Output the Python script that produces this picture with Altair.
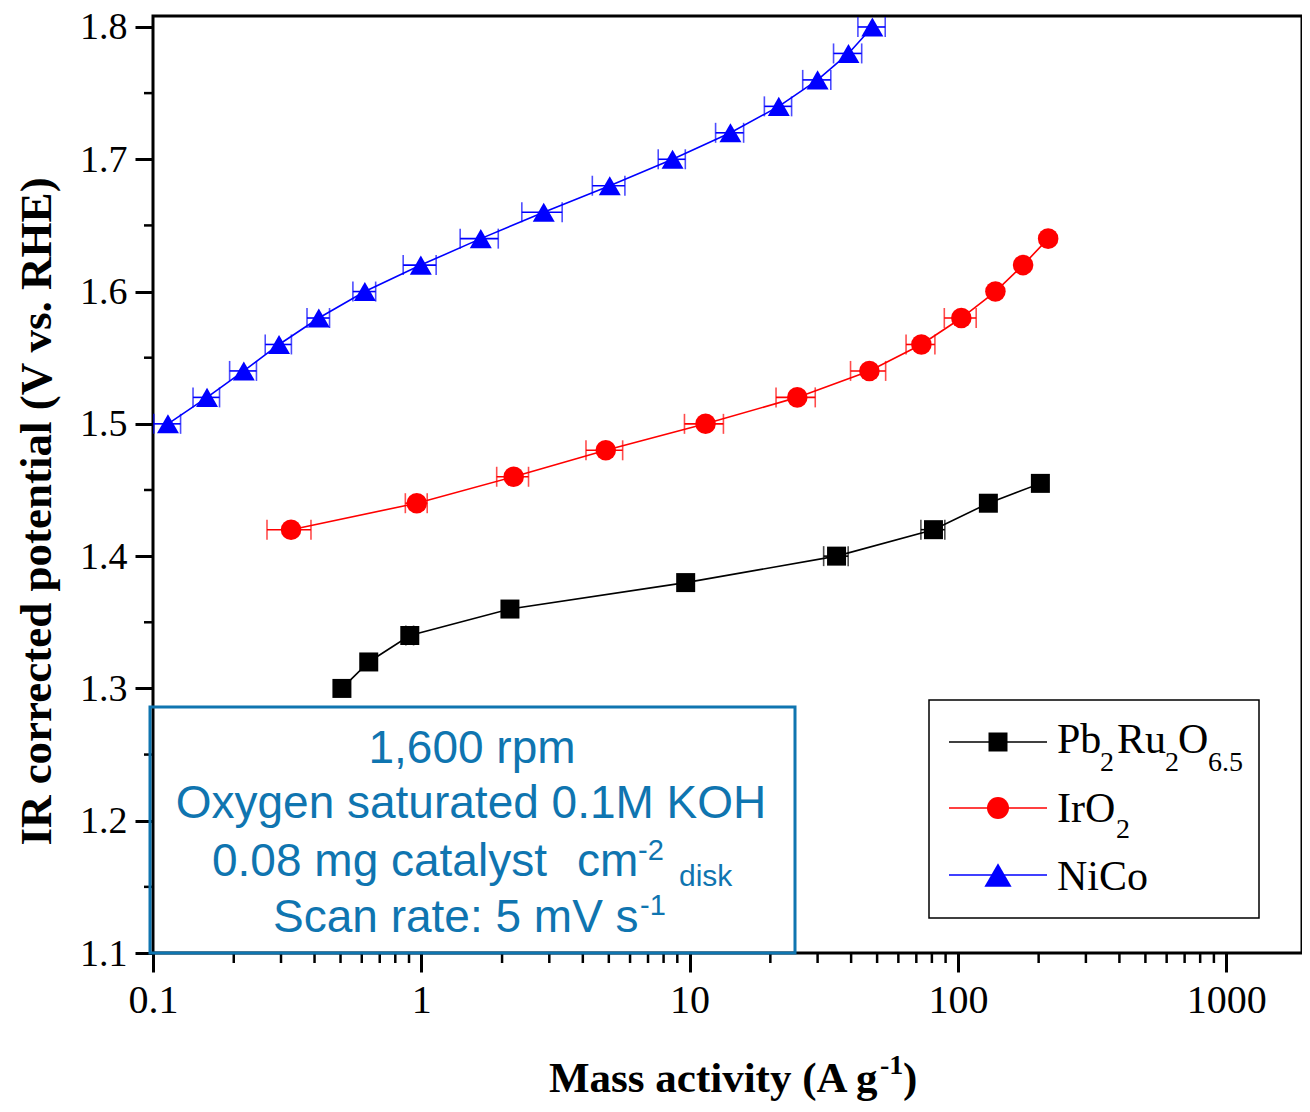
import altair as alt
import pandas as pd

# ---------------- data ----------------
series_names = ["Pb2Ru2O6.5", "IrO2", "NiCo"]
series_colors = ["#000000", "#FF0000", "#0000FF"]
series_shapes = ["square", "circle", "triangle-up"]
series_sizes = [361, 484, 740]

pb_x = [0.506, 0.637, 0.906, 2.14, 9.67, 35.3, 81.1, 129.9, 203]
pb_y = [1.30, 1.32, 1.34, 1.36, 1.38, 1.40, 1.42, 1.44, 1.455]
pb_err = [0, 0, 0.03, 0, 0, 3.7, 8.3, 0, 0]

ir_x = [0.327, 0.962, 2.21, 4.87, 11.47, 25.2, 46.8, 73.1, 103, 138, 175, 217]
ir_y = [1.42, 1.44, 1.46, 1.48, 1.50, 1.52, 1.54, 1.56, 1.58, 1.60, 1.62, 1.64]
ir_err = [0.061, 0.09, 0.3, 0.76, 1.9, 4.2, 7.0, 9.0, 14.0, 0, 0, 0]

nico_x = [0.1137, 0.159, 0.218, 0.295, 0.415, 0.616, 0.996, 1.666, 2.86, 5.04,
          8.64, 14.2, 21.5, 30.0, 39.1, 48.0]
nico_y = [1.50, 1.52, 1.54, 1.56, 1.58, 1.60, 1.62, 1.64, 1.66, 1.68,
          1.70, 1.72, 1.74, 1.76, 1.78, 1.80]
nico_err = [0.013, 0.018, 0.025, 0.033, 0.04, 0.06, 0.14, 0.27, 0.49, 0.7,
            1.0, 1.7, 2.5, 3.6, 4.7, 5.6]

x_major = [0.1, 1, 10, 100, 1000]
y_major = [1.1, 1.2, 1.3, 1.4, 1.5, 1.6, 1.7, 1.8]
y_minor = [1.15, 1.25, 1.35, 1.45, 1.55, 1.65, 1.75]
x_minor = [m * d for d in [0.1, 1, 10, 100, 1000] for m in range(2, 10) if m * d < 1900]

info_color = "#0F75B0"
SERIF = "Liberation Serif"
SANS = "Liberation Sans"

rows = []
for name, xs, ys, es in [(series_names[0], pb_x, pb_y, pb_err),
                         (series_names[1], ir_x, ir_y, ir_err),
                         (series_names[2], nico_x, nico_y, nico_err)]:
    for i, (x, y, e) in enumerate(zip(xs, ys, es)):
        rows.append(dict(series=name, idx=i, x=x, y=y, err=e, xlo=x - e, xhi=x + e))
df = pd.DataFrame(rows)
df_err = df[df["err"] > 0]

# ---------------- scales / axes ----------------
xscale = alt.Scale(type="log", domain=[0.1, 1917], nice=False)
yscale = alt.Scale(domain=[1.1, 1.8083], nice=False, zero=False)

xaxis = alt.Axis(values=x_major, format="~g", title=None, grid=False, domain=False,
                 tickSize=19, tickWidth=3, tickColor="black",
                 labelFont=SERIF, labelFontSize=40, labelColor="black", labelPadding=8,
                 labelFlush=False, labelOverlap=False)
yaxis = alt.Axis(values=y_major, format=".1f", grid=False, domain=False,
                 tickSize=18, tickWidth=3, tickColor="black",
                 labelFont=SERIF, labelFontSize=38, labelColor="black", labelPadding=8,
                 labelOffset=1, labelFlush=False, labelOverlap=False,
                 title="IR corrected potential (V vs. RHE)", titleFont=SERIF,
                 titleFontSize=45, titleFontWeight="bold", titleColor="black",
                 titleAngle=270, titleX=-103, titleY=495, titleAlign="center",
                 titleBaseline="alphabetic")


def X(field):
    return alt.X(field, type="quantitative", scale=xscale, axis=xaxis)


def Y(field):
    return alt.Y(field, type="quantitative", scale=yscale, axis=yaxis)


color = alt.Color("series:N", scale=alt.Scale(domain=series_names, range=series_colors), legend=None)
shape = alt.Shape("series:N", scale=alt.Scale(domain=series_names, range=series_shapes), legend=None)
size = alt.Size("series:N", scale=alt.Scale(domain=series_names, range=series_sizes), legend=None)

base = alt.Chart(df)
lines = base.mark_line(strokeWidth=1.6).encode(x=X("x"), y=Y("y"), color=color, detail="series:N",
                                                order="idx:Q")
err_rules = alt.Chart(df_err).mark_rule(strokeWidth=1.6).encode(x=X("xlo"), x2="xhi", y=Y("y"), color=color)
cap_lo = alt.Chart(df_err).mark_tick(orient="vertical", size=20, thickness=1.6).encode(
    x=X("xlo"), y=Y("y"), color=color)
cap_hi = alt.Chart(df_err).mark_tick(orient="vertical", size=20, thickness=1.6).encode(
    x=X("xhi"), y=Y("y"), color=color)
points = base.mark_point(filled=True, opacity=1, strokeWidth=0).encode(
    x=X("x"), y=Y("y"), color=color, shape=shape, size=size)

minor_x = alt.Chart(pd.DataFrame({"v": x_minor})).mark_rule(color="black", strokeWidth=2.5).encode(
    x=X("v"), y=alt.value(937), y2=alt.value(947))
minor_y = alt.Chart(pd.DataFrame({"v": y_minor})).mark_rule(color="black", strokeWidth=2.5).encode(
    y=Y("v"), x=alt.value(-9), x2=alt.value(0))


def txt(text, x, y, fsize, font, col="black", weight="normal", align="left"):
    return alt.Chart(pd.DataFrame({"t": [text]})).mark_text(
        font=font, fontSize=fsize, fontWeight=weight, color=col, align=align,
        baseline="alphabetic").encode(x=alt.value(x), y=alt.value(y), text="t:N")


one = pd.DataFrame({"a": [0]})
dy = -1  # plot origin is one pixel lower than the measured page origin

# info box
info_box = alt.Chart(one).mark_rect(fill="white", fillOpacity=0, stroke=info_color, strokeWidth=3).encode(
    x=alt.value(-3), x2=alt.value(642), y=alt.value(692 + dy), y2=alt.value(937))
info_layers = [
    info_box,
    txt("1,600 rpm", 319, 748 + dy, 46, SANS, info_color, align="center"),
    txt("Oxygen saturated 0.1M KOH", 318, 803 + dy, 46, SANS, info_color, align="center"),
    txt("0.08 mg catalyst", 59, 861 + dy, 46, SANS, info_color),
    txt("cm", 424, 861 + dy, 46, SANS, info_color),
    txt("-2", 485, 845 + dy, 29, SANS, info_color),
    txt("disk", 526, 871 + dy, 30, SANS, info_color),
    txt("Scan rate: 5 mV s", 120, 917 + dy, 46, SANS, info_color),
    txt("-1", 487, 900 + dy, 29, SANS, info_color),
]

# x-axis title with superscript
xtitle_layers = [
    txt("Mass activity (A g", 396, 1077 + dy, 43, SERIF, weight="bold"),
    txt("-1", 727, 1059 + dy, 28, SERIF, weight="bold"),
    txt(")", 750, 1077 + dy, 43, SERIF, weight="bold"),
]

# legend
legend_box = alt.Chart(one).mark_rect(fill="white", stroke="black", strokeWidth=1.5).encode(
    x=alt.value(776), x2=alt.value(1106), y=alt.value(685 + dy), y2=alt.value(903 + dy))
legend_layers = [legend_box]
row_y = [727 + dy, 793 + dy, 860 + dy]
for i, name in enumerate(series_names):
    legend_layers.append(alt.Chart(one).mark_rule(color=series_colors[i], strokeWidth=1.6).encode(
        x=alt.value(796), x2=alt.value(894), y=alt.value(row_y[i])))
    legend_layers.append(alt.Chart(one).mark_point(
        shape=series_shapes[i], filled=True, opacity=1, strokeWidth=0,
        size=series_sizes[i], color=series_colors[i]).encode(
        x=alt.value(845), y=alt.value(row_y[i])))
legend_layers += [
    txt("Pb", 904, 738 + dy, 42, SERIF),
    txt("2", 947, 756 + dy, 28, SERIF),
    txt("Ru", 964, 738 + dy, 42, SERIF),
    txt("2", 1012, 756 + dy, 28, SERIF),
    txt("O", 1025, 738 + dy, 42, SERIF),
    txt("6.5", 1055, 756 + dy, 28, SERIF),
    txt("IrO", 904, 807 + dy, 42, SERIF),
    txt("2", 963, 823 + dy, 28, SERIF),
    txt("NiCo", 904, 875 + dy, 42, SERIF),
]

chart = alt.layer(
    lines, err_rules, cap_lo, cap_hi, points, minor_x, minor_y,
    *info_layers, *xtitle_layers, *legend_layers
).properties(
    width=1149, height=937,
    padding={"left": 145, "top": 8, "right": 0, "bottom": 155},
    autosize=alt.AutoSizeParams(type="none"),
    background="white",
).configure_view(stroke="black", strokeWidth=3)

chart.save("out.html", embed_options={"renderer": "svg", "actions": False})
